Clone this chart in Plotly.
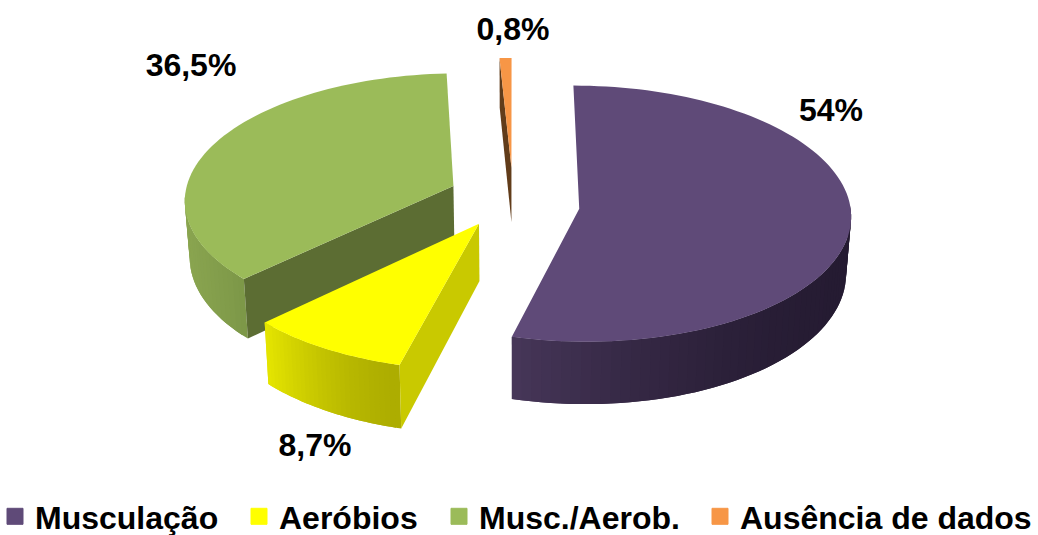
import math
import plotly.graph_objects as go

# ---- data ----
categories = ["Musculação", "Aeróbios", "Musc./Aerob.", "Ausência de dados"]
values = [54.0, 8.7, 36.5, 0.8]
value_labels = ["54%", "8,7%", "36,5%", "0,8%"]

# ---- style ----
top_colors = ["#5f4a78", "#ffff00", "#9bbb59", "#f79646"]
cut_colors = [None, "#c9c900", "#5c6d33", "#613c1a"]
wall_left = ["#463658", "#e4e400", "#8aa550", "#613c1a"]
wall_right = ["#251b32", "#adad00", "#7d9848", "#613c1a"]
wall_gamma = [1.6, 1.6, 1.0, 1.0]
slice_dx = [3, 0, 1, 1]
label_pos = [(831, 113), (315, 448), (191, 68), (513, 32)]
legend_x = [-5, 239, 439, 700]
FONT = "Liberation Sans, Arial, sans-serif"

# ---- projection of the tilted pie into the 1038x535 pixel frame ----
X0, Y0 = 512.0, 197.0
A, B, K = 269.0, 126.0, 0.10
DEPTH, LEAN = 56.0, 0.015
EXPLODE = 0.24


def project(wx, wy, down=0.0):
    w = 1 + K * wy
    sx = A * wx / w
    sy = B * wy / w
    return X0 + sx * (1 - LEAN * down / DEPTH), Y0 - sy + down / w


def lerp_color(c1, c2, t):
    a = [int(c1[i:i + 2], 16) for i in (1, 3, 5)]
    b = [int(c2[i:i + 2], 16) for i in (1, 3, 5)]
    return "#%02x%02x%02x" % tuple(round(p + (q - p) * t) for p, q in zip(a, b))


def add_poly(fig, pts, color, dx=0):
    xs = [p[0] + dx for p in pts]
    ys = [p[1] for p in pts]
    fig.add_trace(go.Scatter(x=xs + xs[:1], y=ys + ys[:1], mode="none", fill="toself",
                             fillcolor=color, hoverinfo="skip", showlegend=False))


fig = go.Figure()
total = sum(values)
slices = []
cum = 0.0
for i, v in enumerate(values):
    a0 = cum / total * 2 * math.pi
    cum += v
    a1 = cum / total * 2 * math.pi
    mid = (a0 + a1) / 2
    slices.append((i, a0, a1, EXPLODE * math.sin(mid), EXPLODE * math.cos(mid)))

# painter's order: back to front
for i, a0, a1, ex, ey in [slices[3], slices[2], slices[0], slices[1]]:
    n = max(30, int((a1 - a0) * 30))
    ang = [a0 + (a1 - a0) * j / n for j in range(n + 1)]
    rim = [(ex + math.sin(t), ey + math.cos(t)) for t in ang]

    # outer wall: only the part facing the viewer, drawn as overlapping shaded strips
    front = [j for j in range(n) if math.cos((ang[j] + ang[j + 1]) / 2) < -0.05]
    if front:
        xs_all = [project(*rim[j])[0] for j in front]
        lo, hi = min(xs_all), max(xs_all)
        for j in front:
            end = min(front[-1] + 1, j + 2)
            strip = rim[j:end + 1]
            t = ((hi - project(*rim[j])[0]) / (hi - lo + 1e-9)) ** wall_gamma[i]
            shade = lerp_color(wall_right[i], wall_left[i], t)
            top = [project(*p) for p in strip]
            bottom = [project(*p, DEPTH) for p in reversed(strip)]
            add_poly(fig, top + bottom, shade, slice_dx[i])

    # visible radial cut face
    if cut_colors[i]:
        tip = (ex + math.sin(ang[0]), ey + math.cos(ang[0]))
        add_poly(fig, [project(ex, ey), project(*tip), project(*tip, DEPTH), project(ex, ey, DEPTH)],
                 cut_colors[i], slice_dx[i])

    # top face; the first slice's apex sits a little lower on the picture
    apex = project(ex, ey)
    if i == 0:
        apex = (apex[0], apex[1] + 8)
    add_poly(fig, [apex] + [project(*p) for p in rim], top_colors[i], slice_dx[i])

# value labels
fig.add_trace(go.Scatter(x=[p[0] for p in label_pos], y=[p[1] for p in label_pos],
                         mode="text", text=value_labels,
                         textfont=dict(family=FONT, size=32, color="#000000", weight="bold"),
                         textposition="middle center", hoverinfo="skip", showlegend=False))

# one legend per entry, so each can sit where the reference has it
legend_layout = {}
for i, name in enumerate(categories):
    key = "legend" if i == 0 else f"legend{i + 1}"
    fig.add_trace(go.Scatter(x=[None], y=[None], mode="markers", name=name, legend=key,
                             marker=dict(symbol="square", size=16, color=top_colors[i],
                                         line=dict(color=top_colors[i], width=1))))
    legend_layout[key] = dict(x=legend_x[i] / 1038, y=-9 / 535, xanchor="left", yanchor="bottom",
                              bgcolor="rgba(0,0,0,0)", itemwidth=30,
                              font=dict(family=FONT, size=32, color="#000000", weight="bold"))

fig.update_layout(width=1038, height=535, margin=dict(l=0, r=0, t=0, b=0, autoexpand=False),
                  paper_bgcolor="#ffffff", plot_bgcolor="#ffffff",
                  xaxis=dict(range=[0, 1038], visible=False, fixedrange=True),
                  yaxis=dict(range=[535, 0], visible=False, fixedrange=True),
                  **legend_layout)
fig.write_html("out.html", config=dict(displayModeBar=False),
               post_script="document.body.style.margin='0';document.body.style.overflow='hidden';")
